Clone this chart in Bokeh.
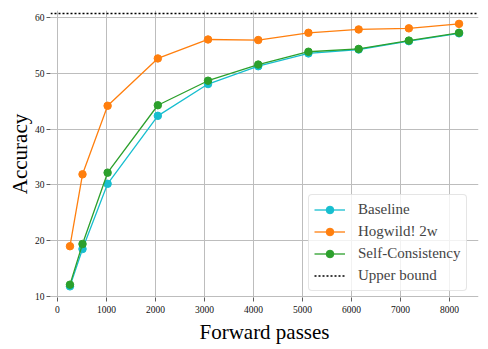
from bokeh.plotting import figure
from bokeh.models import Range1d, Legend, LegendItem, FixedTicker
from bokeh.embed import file_html
from bokeh.resources import INLINE

# ---- data ----
forward_passes = [256, 512, 1024, 2048, 3072, 4096, 5120, 6144, 7168, 8192]
baseline = [11.8, 18.5, 30.2, 42.4, 48.1, 51.3, 53.6, 54.3, 55.8, 57.2]
hogwild_2w = [19.0, 31.9, 44.2, 52.7, 56.1, 56.0, 57.3, 57.9, 58.1, 58.9]
self_consistency = [12.1, 19.4, 32.2, 44.3, 48.7, 51.6, 53.9, 54.4, 55.9, 57.3]
upper_bound = [60.7]
x_ticks = [0, 1000, 2000, 3000, 4000, 5000, 6000, 7000, 8000]
y_ticks = [10, 20, 30, 40, 50, 60]

SERIF = "Liberation Serif"

p = figure(width=488, height=349, output_backend="svg", toolbar_location=None,
           x_range=Range1d(-141, 8589), y_range=Range1d(9.8, 61.3),
           min_border_left=50, min_border_right=10, min_border_top=10,
           min_border_bottom=52)
p.outline_line_color = None
p.background_fill_color = "white"

for ax in (p.xaxis[0], p.yaxis[0]):
    ax.axis_line_color = None
    ax.major_tick_out = 4
    ax.major_tick_in = 0
    ax.minor_tick_line_color = None
    ax.major_tick_line_color = "#333333"
    ax.major_tick_line_width = 0.8
    ax.major_label_text_font = SERIF
    ax.major_label_text_font_size = "9.5px"
    ax.major_label_text_color = "#111111"
    ax.axis_label_text_font = SERIF
    ax.axis_label_text_font_size = "21px"
    ax.axis_label_text_font_style = "normal"
    ax.axis_label_text_color = "black"

p.xaxis[0].ticker = FixedTicker(ticks=x_ticks)
p.yaxis[0].ticker = FixedTicker(ticks=y_ticks)
p.xaxis[0].axis_label = "Forward passes"
p.yaxis[0].axis_label = "Accuracy"
p.xaxis[0].major_label_standoff = 4
p.yaxis[0].major_label_standoff = 2
p.xaxis[0].axis_label_standoff = 4
p.yaxis[0].axis_label_standoff = 0

p.grid.grid_line_color = "#bdbdbd"
p.grid.grid_line_width = 1

series = [
    ("Baseline", baseline, "#17becf"),
    ("Hogwild! 2w", hogwild_2w, "#ff7f0e"),
    ("Self-Consistency", self_consistency, "#2ca02c"),
]

items = []
for label, ys, color in series:
    r_line = p.line(forward_passes, ys, line_color=color, line_width=1.3)
    r_pts = p.scatter(forward_passes, ys, size=7.5, fill_color=color, line_color=color)
    items.append(LegendItem(label=label, renderers=[r_line, r_pts]))

r_ub = p.hspan(y=upper_bound, line_color="black", line_width=1.5, line_dash="2 2")
items.append(LegendItem(label="Upper bound", renderers=[r_ub]))

legend = Legend(items=items, location=(258, 6))
legend.label_text_font = SERIF
legend.label_text_font_size = "15px"
legend.label_height = 19
legend.glyph_height = 19
legend.glyph_width = 31
legend.spacing = 3
legend.padding = 5
legend.margin = 0
legend.label_standoff = 13
legend.border_line_color = "#cccccc"
legend.border_line_width = 1
legend.background_fill_alpha = 0.8
legend.border_radius = 4
p.add_layout(legend, "center")

open("out.html", "w").write(file_html(p, INLINE))
